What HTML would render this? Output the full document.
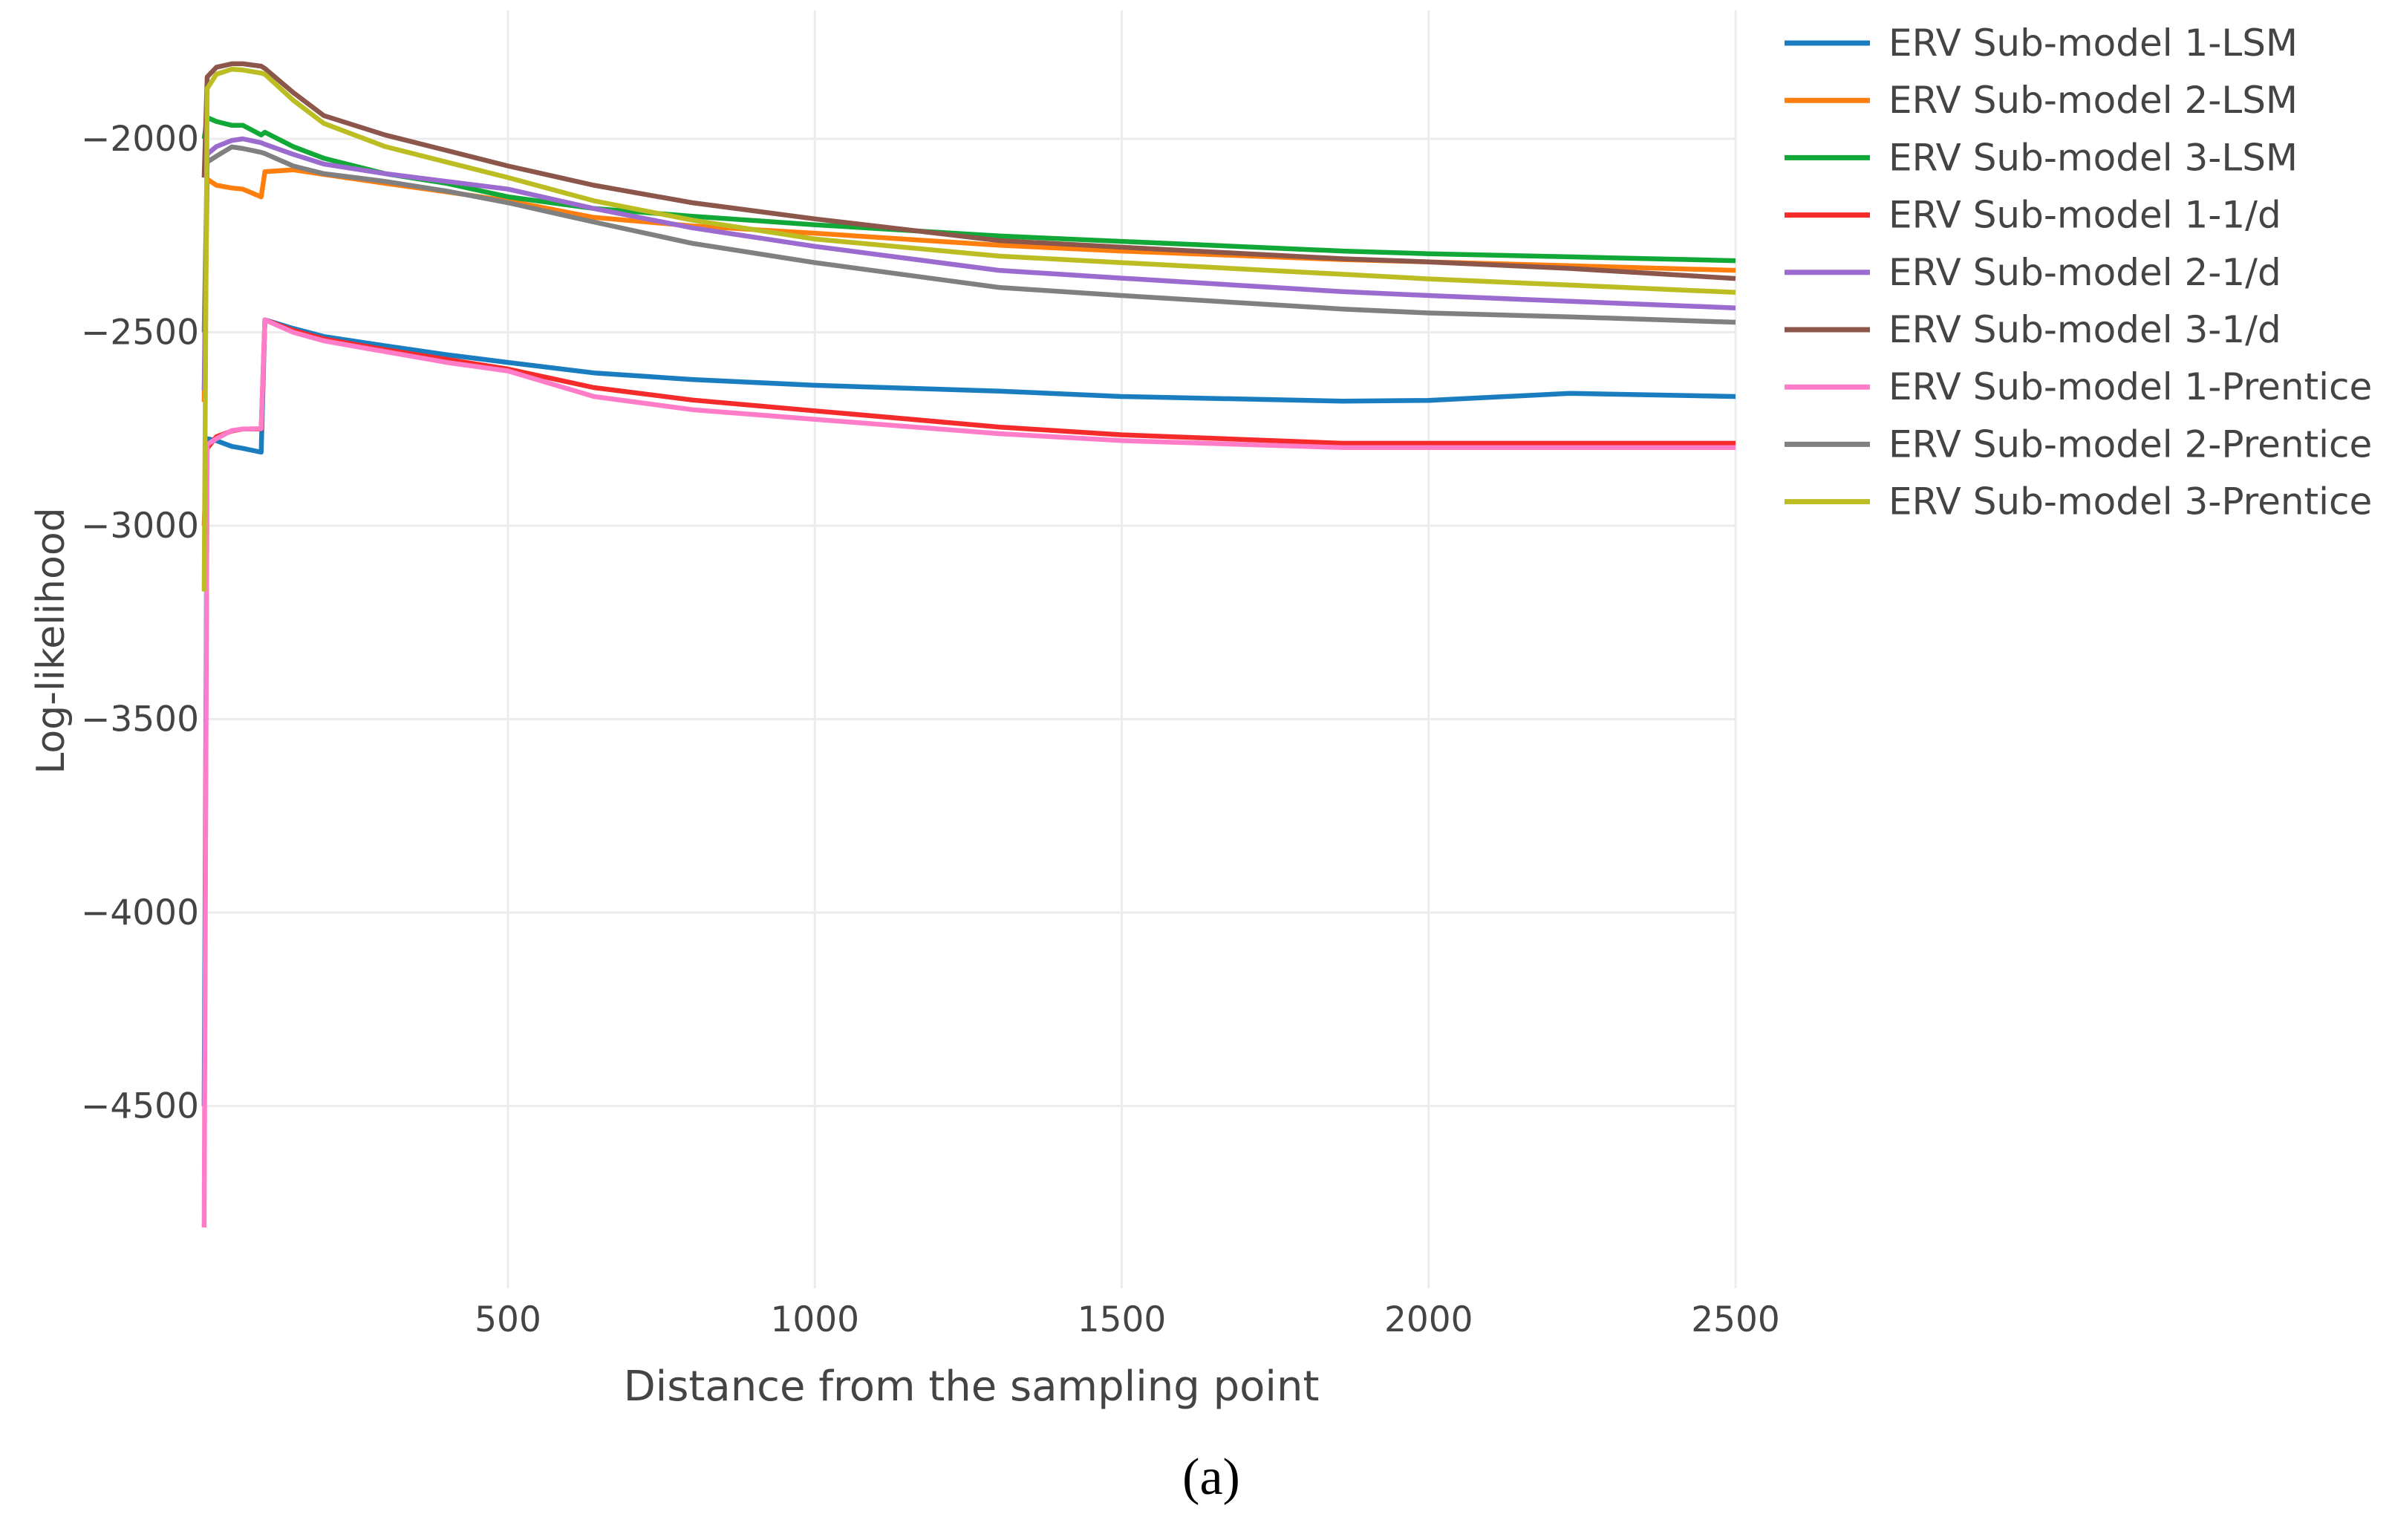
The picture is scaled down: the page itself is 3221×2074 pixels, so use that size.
<!DOCTYPE html>
<html><head><meta charset="utf-8"><style>
html,body{margin:0;padding:0;background:#fff;}
svg text{font-family:"DejaVu Sans","Liberation Sans",sans-serif;fill:#444;}
</style></head><body>
<svg id="chart" width="3221" height="2069" viewBox="0 0 3221 2069" xmlns="http://www.w3.org/2000/svg">
<g id="grid"></g>
<g id="series"></g>
<g id="axes"></g>
<g id="legend"></g>
<text x="1308" y="1886" font-size="56" text-anchor="middle">Distance from the sampling point</text>
<text x="0" y="0" font-size="52" text-anchor="middle" transform="translate(86,863) rotate(-90)">Log-likelihood</text>
<text x="1631" y="2012" font-size="70" text-anchor="middle" style="font-family:'Liberation Serif',serif;fill:#000">(a)</text>
</svg>
<script>
const xs = [5,10,25,50,68,98,104,150,200,300,400,500,640,800,1000,1300,1500,1860,2000,2230,2500];
const blue   = [-4500,-2775,-2780,-2795,-2800,-2810,-2468,-2490,-2511,-2535,-2558,-2578,-2605,-2622,-2637,-2652,-2666,-2678,-2676,-2658,-2666];
const orange = [-2680,-2104,-2120,-2127,-2130,-2150,-2085,-2080,-2092,-2115,-2137,-2160,-2203,-2225,-2244,-2275,-2290,-2312,-2318,-2328,-2340];
const green  = [-2000,-1945,-1955,-1965,-1965,-1990,-1983,-2020,-2050,-2090,-2115,-2150,-2180,-2200,-2222,-2251,-2265,-2290,-2297,-2305,-2315];
const red    = [-3000,-2800,-2770,-2755,-2750,-2750,-2468,-2495,-2517,-2545,-2570,-2595,-2643,-2675,-2703,-2745,-2765,-2787,-2787,-2787,-2787];
const purple = [-2650,-2040,-2020,-2004,-2000,-2010,-2014,-2040,-2065,-2090,-2110,-2130,-2180,-2230,-2278,-2340,-2360,-2395,-2405,-2420,-2437];
const brown  = [-2100,-1840,-1815,-1806,-1806,-1812,-1818,-1880,-1940,-1990,-2030,-2070,-2120,-2165,-2207,-2263,-2280,-2310,-2318,-2335,-2361];
const pink   = [-4814,-2790,-2775,-2754,-2750,-2749,-2468,-2500,-2522,-2550,-2578,-2600,-2666,-2700,-2725,-2762,-2780,-2798,-2798,-2798,-2798];
const grey   = [-2500,-2060,-2045,-2021,-2025,-2035,-2038,-2070,-2090,-2110,-2135,-2165,-2215,-2270,-2320,-2384,-2405,-2440,-2450,-2460,-2474];
const yellow = [-3170,-1870,-1833,-1820,-1822,-1830,-1833,-1900,-1960,-2020,-2060,-2100,-2160,-2210,-2259,-2303,-2320,-2350,-2362,-2378,-2397];
const seriesNames = ["ERV Sub-model 1-LSM","ERV Sub-model 2-LSM","ERV Sub-model 3-LSM","ERV Sub-model 1-1/d","ERV Sub-model 2-1/d","ERV Sub-model 3-1/d","ERV Sub-model 1-Prentice","ERV Sub-model 2-Prentice","ERV Sub-model 3-Prentice"];
const xTicks = [500,1000,1500,2000,2500];
const yTicks = [-2000,-2500,-3000,-3500,-4000,-4500];
const yTickLabels = ["−2000","−2500","−3000","−3500","−4000","−4500"];

const NS="http://www.w3.org/2000/svg";
const allSeries=[blue,orange,green,red,purple,brown,pink,grey,yellow];
const colors=["#1a7dc0","#ff7f0e","#12a837","#f52a2a","#9b6bd0","#8c564b","#ff7dc8","#808080","#bcbd22"];
function xScale(v){return 684+(v-500)*0.8265;}
function yScale(v){return 187+(-2000-v)*0.521;}
function mk(tag,attrs,parent){const e=document.createElementNS(NS,tag);for(const k in attrs)e.setAttribute(k,attrs[k]);parent.appendChild(e);return e;}
const grid=document.getElementById('grid'),axes=document.getElementById('axes'),ser=document.getElementById('series'),leg=document.getElementById('legend');
xTicks.forEach((t,i)=>{
  const l=mk('line',{x1:xScale(t),x2:xScale(t),y1:14,y2:1735,stroke:'#ececec','stroke-width':3},grid);
  
  
  const tx=mk('text',{x:xScale(t),y:1793,'font-size':47,'text-anchor':'middle'},axes);
  
  
  tx.textContent=String(t);
});
yTicks.forEach((t,i)=>{
  const l=mk('line',{x1:273,x2:2337,y1:yScale(t),y2:yScale(t),stroke:'#ececec','stroke-width':3},grid);
  
  
  const tx=mk('text',{x:268,y:yScale(t)+16,'font-size':47,'text-anchor':'end'},axes);
  
  
  tx.textContent=yTickLabels[i];
});
allSeries.forEach((s,i)=>{
  const pts=s.map((v,j)=>xScale(xs[j]).toFixed(1)+','+yScale(v).toFixed(1)).join(' ');
  const p=mk('polyline',{points:pts,fill:'none',stroke:colors[i],'stroke-width':6.5,'stroke-linejoin':'round'},ser);
  
  
  const y=58+i*77.2;
  const g=mk('g',{},leg);
  
  
  mk('line',{x1:2403,x2:2518,y1:y,y2:y,stroke:colors[i],'stroke-width':7},g);
  const tx=mk('text',{x:2543,y:y+17,'font-size':50},g);
  tx.textContent=seriesNames[i];
});
</script>
</body></html>
